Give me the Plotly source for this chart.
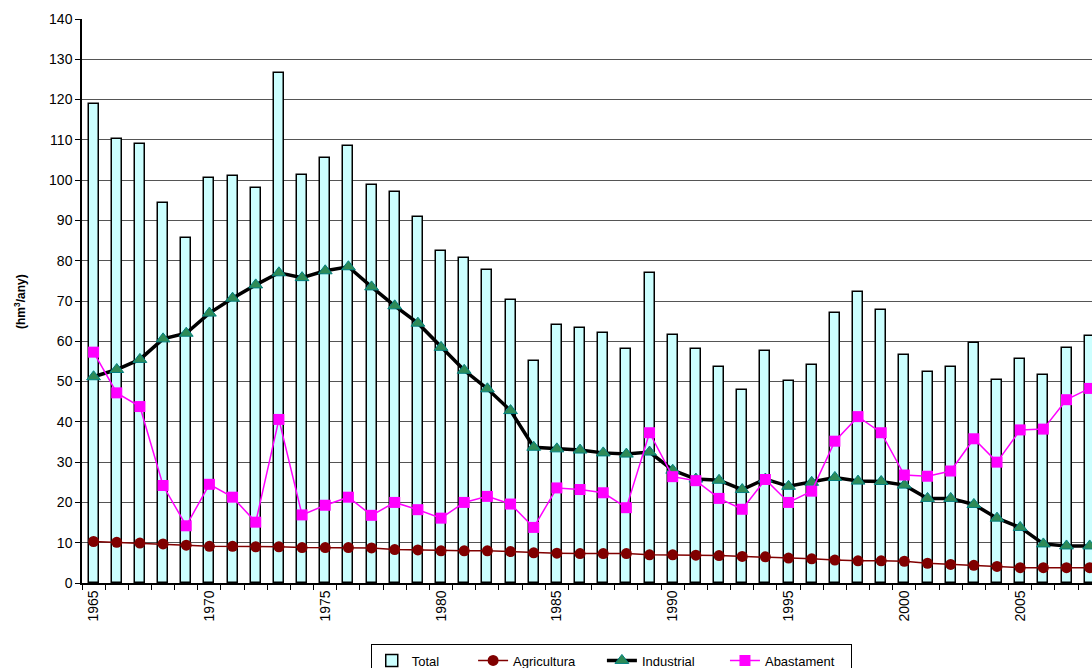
import plotly.graph_objects as go

years = list(range(1965, 2009))
total = [119.0, 110.3, 109.0, 94.3, 85.7, 100.5, 101.0, 98.0, 126.5, 101.3,
         105.5, 108.5, 98.8, 97.0, 90.8, 82.5, 80.6, 77.6, 70.2, 55.0,
         64.0, 63.3, 62.0, 58.0, 77.0, 61.6, 58.0, 53.5, 47.8, 57.5,
         50.2, 54.0, 67.0, 72.2, 67.8, 56.6, 52.3, 53.6, 59.6, 50.5,
         55.6, 51.6, 58.4, 61.2]
agricultura = [10.3, 10.1, 9.9, 9.7, 9.4, 9.1, 9.1, 9.0, 9.0, 8.8,
               8.8, 8.8, 8.7, 8.3, 8.2, 8.0, 8.0, 8.0, 7.8, 7.5,
               7.4, 7.3, 7.3, 7.3, 7.0, 7.0, 6.9, 6.8, 6.6, 6.5,
               6.2, 6.0, 5.7, 5.5, 5.5, 5.4, 4.9, 4.6, 4.4, 4.1,
               3.8, 3.8, 3.8, 3.8]
industrial = [51.2, 53.0, 55.5, 60.6, 62.0, 67.0, 70.7, 74.0, 77.0, 75.8,
              77.5, 78.5, 73.5, 68.8, 64.5, 58.5, 52.8, 48.2, 42.8, 33.7,
              33.3, 33.0, 32.3, 32.0, 32.5, 28.0, 25.8, 25.5, 23.2, 25.8,
              24.0, 25.0, 26.2, 25.3, 25.2, 24.3, 21.0, 21.0, 19.5, 16.1,
              13.8, 9.7, 9.2, 9.2]
abastament = [57.3, 47.2, 43.8, 24.2, 14.2, 24.5, 21.3, 15.1, 40.6, 16.9,
              19.3, 21.3, 16.8, 20.0, 18.2, 16.1, 20.0, 21.5, 19.6, 13.8,
              23.6, 23.2, 22.4, 18.7, 37.3, 26.4, 25.4, 21.0, 18.3, 25.7,
              20.0, 22.8, 35.2, 41.3, 37.3, 26.8, 26.5, 27.8, 35.8, 30.0,
              38.0, 38.2, 45.5, 48.3]
x_ticks = [1965, 1970, 1975, 1980, 1985, 1990, 1995, 2000, 2005]
y_ticks = list(range(0, 141, 10))

font = "Liberation Sans, Arial, sans-serif"
nb = "\u00a0"

fig = go.Figure()
fig.add_trace(go.Bar(
    x=years, y=total, name="Total" + nb * 8, width=0.43,
    marker=dict(color="#CCFFFF", line=dict(color="#000000", width=1.5)),
))
fig.add_trace(go.Scatter(
    x=years, y=agricultura, name="Agricultura" + nb * 6, mode="lines+markers",
    line=dict(color="#800000", width=1.5),
    marker=dict(symbol="circle", size=11, color="#800000"),
))
fig.add_trace(go.Scatter(
    x=years, y=industrial, name="Industrial" + nb * 7, mode="lines+markers",
    line=dict(color="#000000", width=3.5),
    marker=dict(symbol="triangle-up", size=12, color="#2E8B57",
                line=dict(color="#008080", width=1)),
))
fig.add_trace(go.Scatter(
    x=years, y=abastament, name="Abastament" + nb * 3, mode="lines+markers",
    line=dict(color="#FF00FF", width=1.5),
    marker=dict(symbol="square", size=11, color="#FF00FF"),
))

fig.update_layout(
    width=1092, height=668,
    margin=dict(l=82, r=0, t=19, b=85, autoexpand=False),
    paper_bgcolor="white", plot_bgcolor="white",
    font=dict(family=font, size=14, color="#000000"),
    showlegend=True,
    legend=dict(
        orientation="h", x=0.524, xanchor="center", y=-0.109, yanchor="top",
        bordercolor="#000000", borderwidth=1, font=dict(size=13),
        traceorder="normal",
    ),
    bargap=0,
    annotations=[dict(
        text="<b>(hm<sup>3</sup>/any)</b>", xref="paper", yref="paper",
        x=-0.0614, y=0.5, xanchor="center", yanchor="middle",
        textangle=-90, showarrow=False, font=dict(size=12),
    )],
)
fig.update_xaxes(
    range=[1964.5, 2008.1], tickmode="array", tickvals=x_ticks,
    ticktext=[str(v) for v in x_ticks], tickangle=-90, ticks="",
    showgrid=False, showline=True, linecolor="#000000", linewidth=1.5,
    tickfont=dict(size=14), automargin=False,
    minor=dict(ticks="outside", tick0=1964.5, dtick=1, ticklen=5,
               tickcolor="#000000", showgrid=False),
)
fig.update_yaxes(
    range=[0, 140], tickmode="array", tickvals=y_ticks,
    ticks="outside", ticklen=5, tickcolor="#000000",
    showgrid=True, gridcolor="#555555", gridwidth=1,
    showline=True, linecolor="#000000", linewidth=1.5,
    zeroline=False, tickfont=dict(size=14), automargin=False,
)

post = ("document.body.style.margin='0';"
        "document.body.style.overflow='hidden';"
        "document.documentElement.style.overflow='hidden';")
fig.write_html("out.html", post_script=post, config={"displayModeBar": False})
